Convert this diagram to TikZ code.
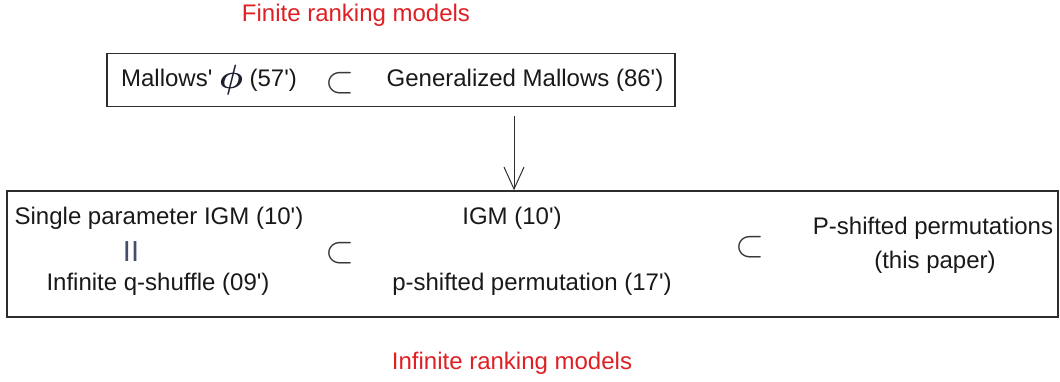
\documentclass[tikz,border=0pt]{standalone}
\usepackage{amsmath}
\usepackage{graphicx}
\usepackage{fontspec}
\setmainfont{Liberation Sans}[Ligatures=TeXOff]
\usetikzlibrary{arrows.meta}
\definecolor{redlbl}{RGB}{222,32,36}
\definecolor{boxline}{RGB}{45,45,45}
\definecolor{txt}{RGB}{25,25,25}
\definecolor{eqcol}{RGB}{70,78,110}
\definecolor{subcol}{RGB}{55,55,60}
\definecolor{phicol}{RGB}{30,30,50}
\tikzset{
  lbl/.style={font=\fontsize{24}{28}\selectfont, text=txt, inner sep=0pt},
  title/.style={font=\fontsize{24}{28}\selectfont, text=redlbl, inner sep=0pt},
  frame/.style={draw=boxline, line width=1.5pt, inner sep=0pt},
  sub/.style={font=\fontsize{24}{28}\selectfont, text=subcol, inner sep=0pt},
  conn/.style={draw=boxline, line width=1pt, -{Straight Barb[length=22pt,width=20pt,line width=1pt]}}
}
\newcommand{\subsym}{\scalebox{1.5}{$\subset$}}
\begin{document}
\begin{tikzpicture}[x=1pt,y=-1pt]
\useasboundingbox (0,0) rectangle (1060,381);
% titles
\node[title] (fin) at (356,15) {Finite ranking models};
\node[title] (inf) at (512,363) {Infinite ranking models};
% boxes
\node[frame, minimum width=568pt, minimum height=53pt] (topbox) at (391,80) {};
\node[frame, minimum width=1051pt, minimum height=126pt] (botbox) at (532.5,254) {};
% top box content
\node[lbl] (mal) at (209,80) {Mallows' \textcolor{phicol}{\raisebox{-2pt}{\scalebox{1.35}{$\boldsymbol{\phi}$}}} (57')};
\node[sub] (sub1) at (340,83) {\subsym};
\node[lbl] (gen) at (525,80) {Generalized Mallows (86')};
% arrow
\coordinate (arrstart) at (514,116);
\draw[conn] (arrstart) -- (arrstart |- botbox.north);
% bottom box content
\node[lbl] (spi) at (159,218) {Single parameter IGM (10')};
\node[font=\fontsize{29}{30}\selectfont, text=eqcol, inner sep=0pt] (eq) at (131,252) {II};
\node[lbl] (iqs) at (158,284) {Infinite q-shuffle (09')};
\node[sub] (sub2) at (340,253) {\subsym};
\node[lbl] (igm) at (512,218) {IGM (10')};
\node[lbl] (psp) at (532,284) {p-shifted permutation (17')};
\node[sub] (sub3) at (750,247) {\subsym};
\node[lbl] (Psp) at (933,228) {P-shifted permutations};
\node[lbl] (tp) at (935,262) {(this paper)};
\end{tikzpicture}
\end{document}
